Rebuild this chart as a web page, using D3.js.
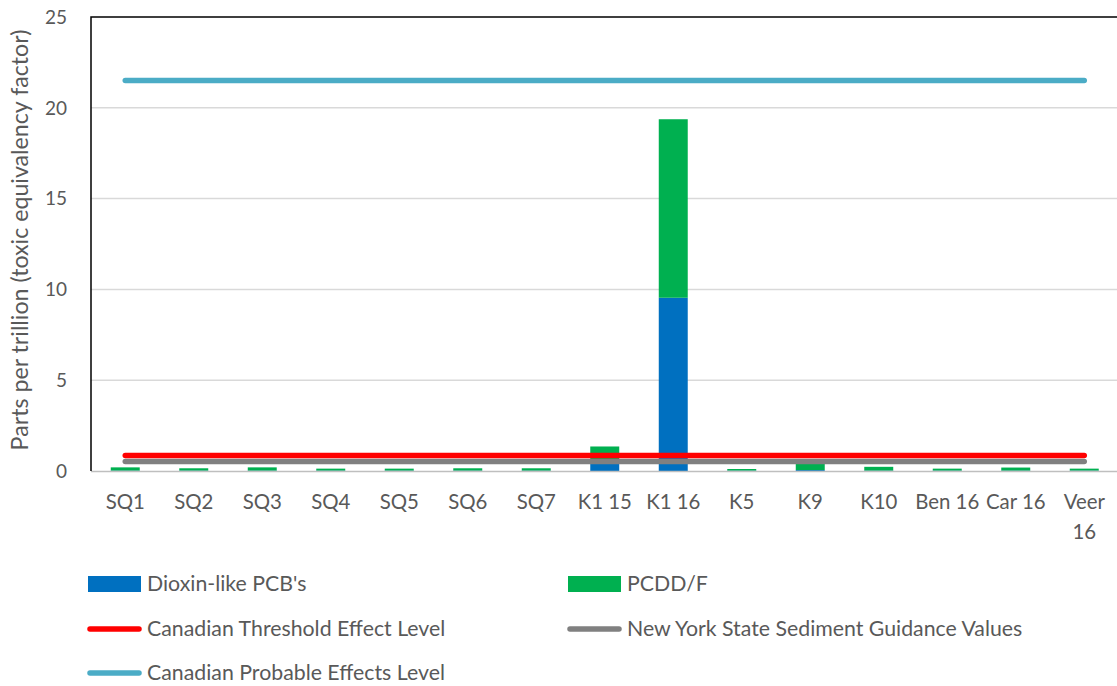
<!DOCTYPE html>
<html>
<head>
<meta charset="utf-8">
<script src="https://cdn.jsdelivr.net/npm/d3@7"></script>
<style>
  html, body { margin: 0; padding: 0; background: #fff; }
  svg { display: block; font-family: Lato, "Open Sans", sans-serif; }
</style>
</head>
<body>
<svg id="chart" width="1117" height="686"></svg>
<script>
// Sampling sites along the x axis
const categories = ["SQ1", "SQ2", "SQ3", "SQ4", "SQ5", "SQ6", "SQ7", "K1 15", "K1 16", "K5", "K9", "K10", "Ben 16", "Car 16", "Veer 16"];
// Stacked bar components (ppt TEQ)
const pcbValues  = [0.02, 0.02, 0.02, 0.02, 0.02, 0.02, 0.02, 0.50, 9.54, 0.02, 0.05, 0.02, 0.02, 0.02, 0.02];
const pcddValues = [0.18, 0.13, 0.18, 0.11, 0.11, 0.13, 0.13, 0.85, 9.83, 0.09, 0.40, 0.21, 0.11, 0.17, 0.11];
// Guideline levels drawn as horizontal lines
const thresholdEffectLevel = 0.85;
const nysGuidanceValue = 0.52;
const probableEffectsLevel = 21.5;
// Y axis ticks
const yTicks = [0, 5, 10, 15, 20, 25];

const colors = {
  pcb: "#0070C0",
  pcdd: "#00B050",
  tel: "#FF0000",
  nys: "#808080",
  pel: "#4BACC6",
  text: "#595959",
  grid: "#D9D9D9"
};

const svg = d3.select("#chart");
const plot = { left: 91, right: 1118.5, top: 17, bottom: 471 };
const fonts = { tick: 19, category: 20.4, legend: 21.3, title: 23.2 };

const x = d3.scaleBand()
  .domain(categories)
  .range([plot.left, plot.right])
  .paddingInner(0.577)
  .paddingOuter(0.2885);

const y = d3.scaleLinear()
  .domain([0, 25])
  .range([plot.bottom, plot.top]);

// Gridlines
svg.append("g")
  .selectAll("line")
  .data(yTicks.filter(d => d > 0 && d < 25))
  .join("line")
  .attr("x1", plot.left).attr("x2", plot.right)
  .attr("y1", d => y(d)).attr("y2", d => y(d))
  .attr("stroke", colors.grid)
  .attr("stroke-width", 1.5);

// Y tick labels
svg.append("g")
  .selectAll("text")
  .data(yTicks)
  .join("text")
  .attr("x", 67)
  .attr("y", d => y(d))
  .attr("dy", "0.36em")
  .attr("text-anchor", "end")
  .attr("font-size", fonts.tick)
  .attr("fill", colors.text)
  .text(d => d);

// Y axis title
svg.append("text")
  .attr("transform", `translate(28, 240) rotate(-90)`)
  .attr("text-anchor", "middle")
  .attr("font-size", fonts.title)
  .attr("fill", colors.text)
  .text("Parts per trillion (toxic equivalency factor)");

// Stacked bars
const stackData = categories.map((c, i) => ({ cat: c, pcb: pcbValues[i], pcdd: pcddValues[i] }));
const series = d3.stack().keys(["pcb", "pcdd"])(stackData);

svg.append("g")
  .selectAll("g")
  .data(series)
  .join("g")
  .attr("fill", d => colors[d.key])
  .selectAll("rect")
  .data(d => d)
  .join("rect")
  .attr("x", d => x(d.data.cat))
  .attr("width", x.bandwidth())
  .attr("y", d => y(d[1]))
  .attr("height", d => y(d[0]) - y(d[1]));

// Horizontal guideline series spanning first to last category
const lineSeries = [
  { key: "pel", value: probableEffectsLevel },
  { key: "nys", value: nysGuidanceValue },
  { key: "tel", value: thresholdEffectLevel }
];
const line = d3.line().x(d => d[0]).y(d => d[1]);
svg.append("g")
  .selectAll("path")
  .data(lineSeries)
  .join("path")
  .attr("d", s => line(categories.map(c => [x(c) + x.bandwidth() / 2, y(s.value)])))
  .attr("fill", "none")
  .attr("stroke", s => colors[s.key])
  .attr("stroke-width", 5.5)
  .attr("stroke-linecap", "round");

// X axis line
svg.append("line")
  .attr("x1", plot.left).attr("x2", plot.right)
  .attr("y1", plot.bottom + 0.5).attr("y2", plot.bottom + 0.5)
  .attr("stroke", "#BFBFBF")
  .attr("stroke-width", 1.5);

// Plot frame (top and left edges)
svg.append("path")
  .attr("d", `M${plot.left},${plot.bottom} V${plot.top} H${plot.right}`)
  .attr("fill", "none")
  .attr("stroke", "#000")
  .attr("stroke-width", 1.5);

// X category labels, wrapped when wider than the band step
const xLabels = svg.append("g")
  .selectAll("text")
  .data(categories)
  .join("text")
  .attr("x", d => x(d) + x.bandwidth() / 2)
  .attr("y", 509)
  .attr("text-anchor", "middle")
  .attr("font-size", fonts.category)
  .attr("fill", colors.text)
  .text(d => d);

xLabels.each(function (d) {
  const t = d3.select(this);
  if (this.getComputedTextLength() > x.step() - 1.5 && d.includes(" ")) {
    const parts = d.split(" ");
    t.text(null);
    const cx = +t.attr("x");
    parts.forEach((p, i) => {
      t.append("tspan").attr("x", cx).attr("dy", i === 0 ? 0 : 30).text(p);
    });
  }
});

// Legend
const legendItems = [
  { key: "pcb", label: "Dioxin-like PCB's", type: "rect", col: 0, row: 0 },
  { key: "pcdd", label: "PCDD/F", type: "rect", col: 1, row: 0 },
  { key: "tel", label: "Canadian Threshold Effect Level", type: "line", col: 0, row: 1 },
  { key: "nys", label: "New York State Sediment Guidance Values", type: "line", col: 1, row: 1 },
  { key: "pel", label: "Canadian Probable Effects Level", type: "line", col: 0, row: 2 }
];
const colX = [88, 568];
const rowY = [584, 629, 673];

const legend = svg.append("g")
  .selectAll("g")
  .data(legendItems)
  .join("g")
  .attr("transform", d => `translate(${colX[d.col]}, ${rowY[d.row]})`);

legend.filter(d => d.type === "rect")
  .append("rect")
  .attr("x", 0).attr("y", -8)
  .attr("width", 53).attr("height", 16)
  .attr("fill", d => colors[d.key]);

legend.filter(d => d.type === "line")
  .append("line")
  .attr("x1", 2).attr("x2", 51)
  .attr("y1", 0).attr("y2", 0)
  .attr("stroke", d => colors[d.key])
  .attr("stroke-width", 5.5)
  .attr("stroke-linecap", "round");

legend.append("text")
  .attr("x", 59)
  .attr("y", 0)
  .attr("dy", "0.34em")
  .attr("font-size", fonts.legend)
  .attr("fill", colors.text)
  .text(d => d.label);
</script>
</body>
</html>
